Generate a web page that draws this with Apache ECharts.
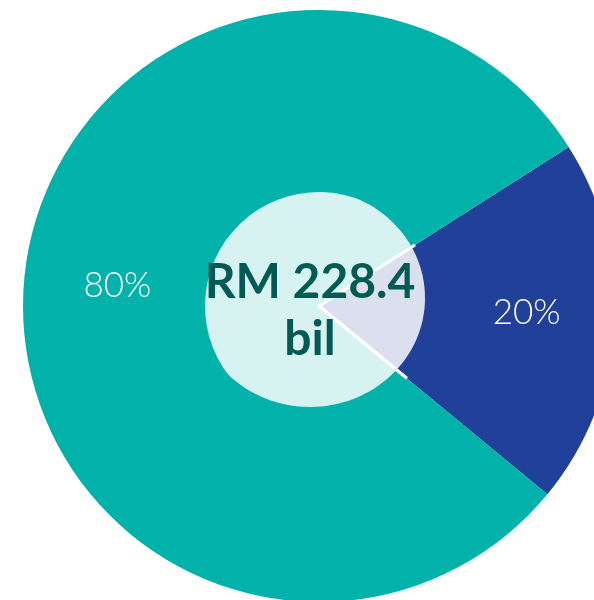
<!DOCTYPE html>
<html>
<head>
<meta charset="utf-8">
<script src="https://cdn.jsdelivr.net/npm/echarts@6/dist/echarts.min.js"></script>
<style>
  html, body { margin: 0; padding: 0; background: #fff; }
  #main { width: 594px; height: 600px; }
</style>
</head>
<body>
<div id="main"></div>
<script>
  // slices, blue one first so it starts at the upper right
  var sliceNames = ['Bahagian A', 'Bahagian B'];
  var sliceValues = [20, 80];
  var sliceColors = ['#21409a', '#00b2a9'];
  var centerLines = ['RM 228.4', 'bil'];

  var chartDom = document.getElementById('main');
  var myChart = echarts.init(chartDom);

  var pieData = [];
  for (var i = 0; i < sliceNames.length; i++) {
    pieData.push({
      name: sliceNames[i],
      value: sliceValues[i],
      itemStyle: { color: sliceColors[i] }
    });
  }

  var option = {
    animation: false,
    series: [
      {
        type: 'pie',
        center: [319, 306],
        radius: [0, 296],
        startAngle: 32.5,
        silent: true,
        itemStyle: { borderColor: '#fff', borderWidth: 3 },
        label: { show: false },
        labelLine: { show: false },
        data: pieData
      },
      {
        // transparent ring only used to place the percent labels
        type: 'pie',
        center: [319, 306],
        radius: [114, 296],
        startAngle: 32.5,
        silent: true,
        z: 20,
        itemStyle: { color: 'rgba(0,0,0,0)' },
        label: {
          show: true,
          position: 'inside',
          formatter: '{d}%',
          color: '#fff',
          fontFamily: 'Lato',
          fontWeight: 300,
          fontSize: 35
        },
        labelLine: { show: false },
        labelLayout: function (params) {
          return params.dataIndex === 1 ? { dx: 6, dy: -8 } : { dy: -6 };
        },
        data: pieData
      }
    ],
    graphic: [
      {
        type: 'ellipse',
        z: 10,
        silent: true,
        shape: { cx: 310, cy: 298, rx: 115, ry: 109 },
        style: { fill: 'rgba(255,255,255,0.84)' }
      },
      {
        type: 'text',
        x: 310,
        y: 311,
        z: 30,
        silent: true,
        style: {
          text: centerLines.join('\n'),
          fill: '#035a54',
          font: 'bold 48px Lato',
          lineHeight: 57,
          textAlign: 'center',
          textVerticalAlign: 'middle'
        }
      }
    ]
  };

  myChart.setOption(option);
</script>
</body>
</html>
